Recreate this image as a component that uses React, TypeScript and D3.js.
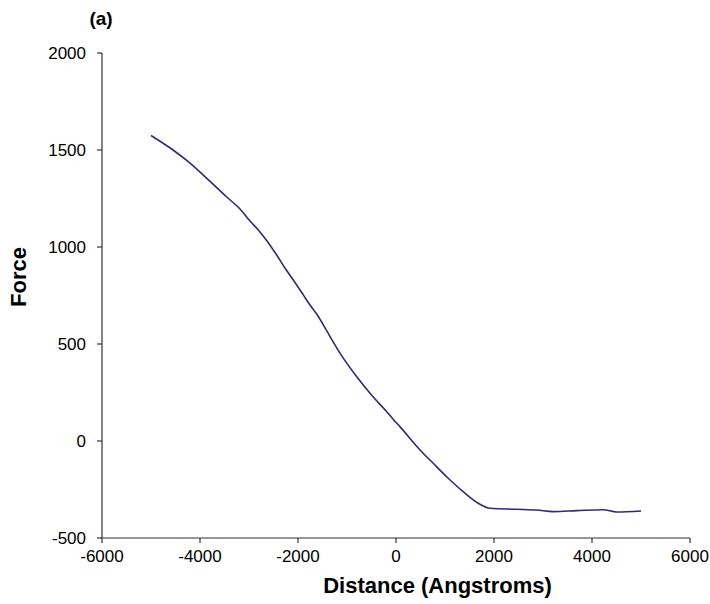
import React from "react";
import * as d3 from "d3";

const distance = [-5000, -4550, -4240, -3860, -3460, -3184, -2980, -2810, -2640, -2435, -2266, -2096, -1892, -1755, -1650, -1586, -1430, -1140, -800, -500, -190, -50, 80, 490, 760, 1050, 1370, 1680, 1920, 2460, 2870, 3210, 3690, 4230, 4500, 5000];
const force = [1575, 1500, 1440, 1354, 1259, 1196, 1134, 1088, 1034, 959, 892, 830, 753, 701, 665, 642, 575, 452, 331, 237, 151, 110, 74, -46, -115, -188, -261, -321, -347, -352, -356, -364, -359, -354, -366, -361];
const xTicks = [-6000, -4000, -2000, 0, 2000, 4000, 6000];
const yTicks = [-500, 0, 500, 1000, 1500, 2000];

const W = 710, H = 604;
const left = 102, right = 690, top = 53, bottom = 538;
const font = "'Liberation Sans', Arial, sans-serif";

export default function App() {
  const x = d3.scaleLinear().domain([-6000, 6000]).range([left, right]);
  const y = d3.scaleLinear().domain([-500, 2000]).range([bottom, top]);
  const pts = distance.map((d, i) => [d, force[i]] as [number, number]);
  const line = d3.line<[number, number]>().x(d => x(d[0])).y(d => y(d[1])).curve(d3.curveMonotoneX);
  return (
    <svg width={W} height={H} style={{ position: "absolute", left: 0, top: 0, background: "#fff" }} fontFamily={font}>
      <rect width={W} height={H} fill="#fff" />
      <line x1={left} x2={left} y1={top} y2={bottom} stroke="#333" strokeWidth={1.2} />
      <line x1={left} x2={right} y1={bottom} y2={bottom} stroke="#333" strokeWidth={1.2} />
      {yTicks.map(t => (
        <g key={"y" + t}>
          <line x1={left - 5} x2={left} y1={y(t)} y2={y(t)} stroke="#333" strokeWidth={1.2} />
          <text x={86} y={y(t)} dy="0.35em" textAnchor="end" fontSize={17} fill="#000">{t}</text>
        </g>
      ))}
      {xTicks.map(t => (
        <g key={"x" + t}>
          <line x1={x(t)} x2={x(t)} y1={bottom} y2={bottom + 5} stroke="#333" strokeWidth={1.2} />
          <text x={x(t)} y={562} textAnchor="middle" fontSize={17} fill="#000">{t}</text>
        </g>
      ))}
      <path d={line(pts) || ""} fill="none" stroke="#2e2a78" strokeWidth={1.6} />
      <text x={101} y={25} textAnchor="middle" fontSize={19} fontWeight="bold">(a)</text>
      <text x={437.5} y={593} textAnchor="middle" fontSize={22} fontWeight="bold">Distance (Angstroms)</text>
      <text transform={`translate(26,277) rotate(-90)`} textAnchor="middle" fontSize={22} fontWeight="bold">Force</text>
    </svg>
  );
}
